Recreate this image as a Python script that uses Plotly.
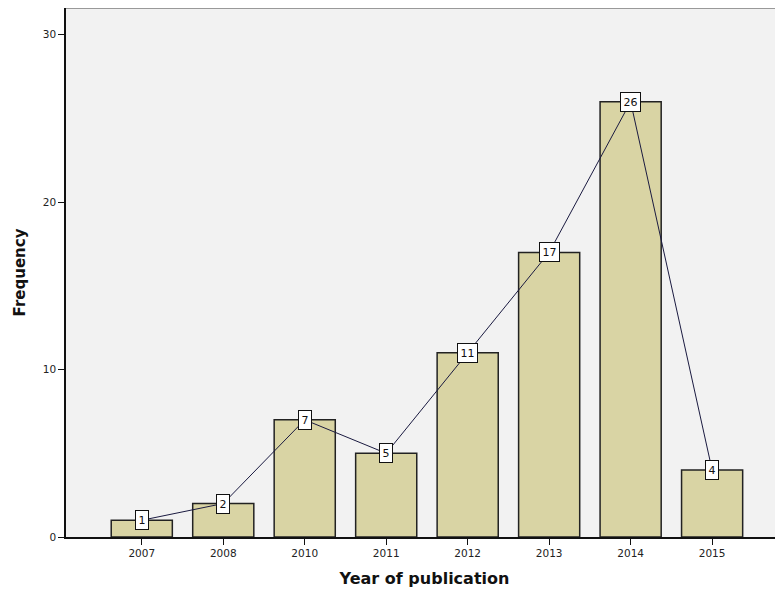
import plotly.graph_objects as go

years = ["2007", "2008", "2010", "2011", "2012", "2013", "2014", "2015"]
freq = [1, 2, 7, 5, 11, 17, 26, 4]
y_ticks = [0, 10, 20, 30]

fig = go.Figure()
fig.add_trace(go.Bar(
    x=years, y=freq, width=0.75,
    marker=dict(color="#d9d4a4", line=dict(color="#222222", width=1.5)),
    showlegend=False, hoverinfo="skip",
))
fig.add_trace(go.Scatter(
    x=years, y=freq, mode="lines",
    line=dict(color="#1a1a40", width=1),
    showlegend=False,
))
for i, yv in enumerate(freq):
    fig.add_annotation(
        x=i, y=yv, xref="x", yref="y", text=str(yv), showarrow=False,
        bgcolor="white", bordercolor="#111111", borderwidth=1, borderpad=0,
        width=12 if yv < 10 else 19, height=18,
        font=dict(family="DejaVu Sans", size=11, color="#111111"),
    )

fig.update_layout(
    width=775, height=590,
    margin=dict(l=58, r=0, t=0, b=61),
    paper_bgcolor="white", plot_bgcolor="#f2f2f2",
    font=dict(family="DejaVu Sans", size=11, color="#222222"),
    bargap=0.25,
)
fig.update_xaxes(
    type="category", range=[-0.93, 7.87],
    showline=True, linecolor="#111111", linewidth=1.5,
    ticks="outside", ticklen=6, tickcolor="#111111",
    tickfont=dict(size=10.5),
    showgrid=False,
    title=dict(text="<b>Year of publication</b>", font=dict(family="DejaVu Sans", size=16, color="#111111"), standoff=14),
)
fig.update_yaxes(
    range=[0, 31.6], tickvals=y_ticks,
    showline=True, linecolor="#111111", linewidth=1.5,
    ticks="outside", ticklen=6, tickcolor="#111111",
    tickfont=dict(size=10.5),
    showgrid=False, zeroline=False,
    title=dict(text="<b>Frequency</b>", font=dict(family="DejaVu Sans", size=15, color="#111111"), standoff=14),
)
fig.add_shape(type="line", xref="paper", yref="paper", x0=0, x1=1, y0=1, y1=1,
              line=dict(color="#999999", width=2))
fig.write_html("out.html")
